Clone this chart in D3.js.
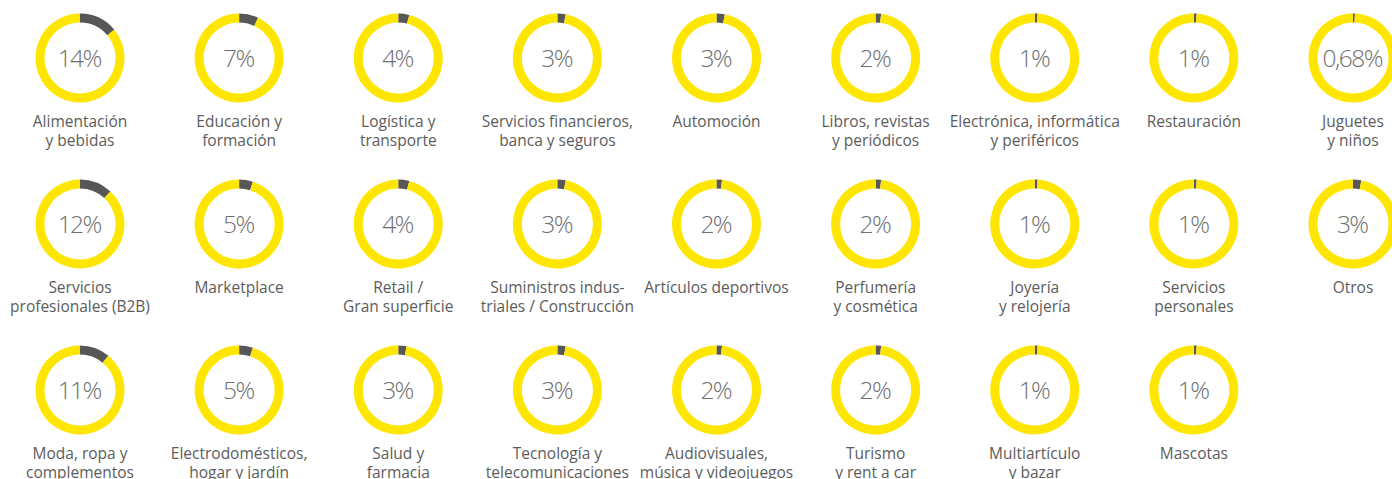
<!DOCTYPE html>
<html lang="es">
<head>
<meta charset="utf-8">
<script src="https://cdn.jsdelivr.net/npm/d3@7"></script>
<style>
  html, body { margin: 0; padding: 0; background: #ffffff; }
  #chart { width: 1392px; height: 479px; overflow: hidden; }
  text { font-family: "Open Sans", "Noto Sans", sans-serif; }
</style>
</head>
<body>
<div id="chart"></div>
<script>
  // Categories, ordered column by column (top to bottom, left to right)
  const CATEGORIES = [
    "Alimentación|y bebidas",
    "Servicios|profesionales (B2B)",
    "Moda, ropa y|complementos",
    "Educación y|formación",
    "Marketplace",
    "Electrodomésticos,|hogar y jardín",
    "Logística y|transporte",
    "Retail /|Gran superficie",
    "Salud y|farmacia",
    "Servicios financieros,|banca y seguros",
    "Suministros indus-|triales / Construcción",
    "Tecnología y|telecomunicaciones",
    "Automoción",
    "Artículos deportivos",
    "Audiovisuales,|música y videojuegos",
    "Libros, revistas|y periódicos",
    "Perfumería|y cosmética",
    "Turismo|y rent a car",
    "Electrónica, informática|y periféricos",
    "Joyería|y relojería",
    "Multiartículo|y bazar",
    "Restauración",
    "Servicios|personales",
    "Mascotas",
    "Juguetes|y niños",
    "Otros"
  ];

  // Share of each category (%)
  const VALUES = [
    14, 12, 11,
    7, 5, 5,
    4, 4, 3,
    3, 3, 3,
    3, 2, 2,
    2, 2, 2,
    1, 1, 1,
    1, 1, 1,
    0.68, 3
  ];

  const COLUMNS = d3.range(9);
  const ROWS = d3.range(3);

  const W = 1392, H = 479;
  const YELLOW = '#ffe600';
  const GREY = '#575757';

  const svg = d3.select('#chart')
    .append('svg')
    .attr('width', W)
    .attr('height', H)
    .attr('viewBox', `0 0 ${W} ${H}`);

  const x = d3.scalePoint().domain(COLUMNS).range([80, 1353]);
  const y = d3.scalePoint().domain(ROWS).range([58, 390]);

  const arc = d3.arc().innerRadius(35.5).outerRadius(44.5);
  const pie = d3.pie().sort(null).value(d => d);

  const fmt = v => (Number.isInteger(v) ? String(v) : String(v).replace('.', ',')) + '%';

  const data = CATEGORIES.map((c, i) => ({
    lines: c.split('|'),
    value: VALUES[i],
    col: Math.floor(i / ROWS.length),
    row: i % ROWS.length
  }));

  const cell = svg.selectAll('.donut')
    .data(data)
    .enter()
    .append('g')
    .attr('class', 'donut')
    .attr('transform', d => `translate(${x(d.col)},${y(d.row)})`);

  // Ring: grey share first, yellow rest
  cell.selectAll('path')
    .data(d => pie([d.value, 100 - d.value]))
    .enter()
    .append('path')
    .attr('d', arc)
    .attr('fill', (d, i) => i === 0 ? GREY : YELLOW);

  // Percentage in the middle
  cell.append('text')
    .attr('text-anchor', 'middle')
    .attr('x', -0.75)
    .attr('y', 9)
    .attr('font-size', 24.5)
    .attr('font-weight', 300)
    .attr('letter-spacing', '-1.5px')
    .attr('fill', '#6f6f6f')
    .text(d => fmt(d.value));

  // Category label under the ring
  const label = cell.append('text')
    .attr('text-anchor', 'middle')
    .attr('font-size', 15.5)
    .attr('fill', '#5c5c5c');

  label.selectAll('tspan')
    .data(d => d.lines)
    .enter()
    .append('tspan')
    .attr('x', 0)
    .attr('y', (d, i) => 69 + i * 18.5)
    .text(d => d);
</script>
</body>
</html>
